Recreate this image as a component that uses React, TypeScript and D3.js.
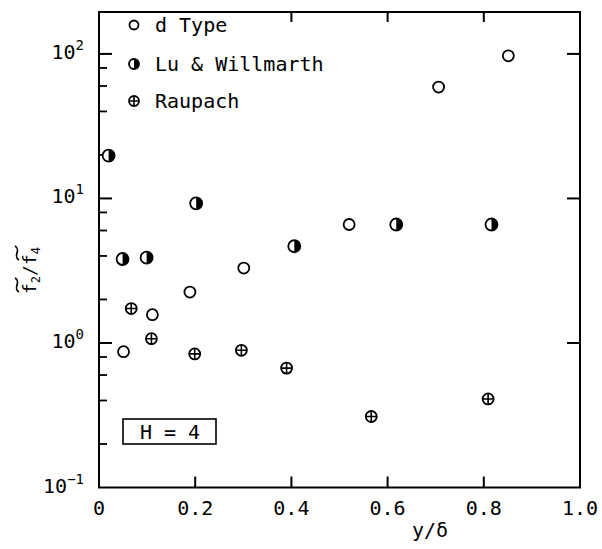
import React from "react";
import * as d3 from "d3";

const dType = [
  { x: 0.051, y: 0.87 },
  { x: 0.111, y: 1.57 },
  { x: 0.189, y: 2.25 },
  { x: 0.301, y: 3.3 },
  { x: 0.52, y: 6.6 },
  { x: 0.706, y: 59 },
  { x: 0.851, y: 97 },
];
const luWillmarth = [
  { x: 0.02, y: 19.8 },
  { x: 0.049, y: 3.81 },
  { x: 0.099, y: 3.89 },
  { x: 0.202, y: 9.25 },
  { x: 0.406, y: 4.67 },
  { x: 0.618, y: 6.6 },
  { x: 0.816, y: 6.6 },
];
const raupach = [
  { x: 0.067, y: 1.73 },
  { x: 0.109, y: 1.07 },
  { x: 0.199, y: 0.84 },
  { x: 0.296, y: 0.89 },
  { x: 0.39, y: 0.67 },
  { x: 0.566, y: 0.31 },
  { x: 0.809, y: 0.41 },
];
const xTicks = [0, 0.2, 0.4, 0.6, 0.8, 1.0];
const xTickLabels = ["0", "0.2", "0.4", "0.6", "0.8", "1.0"];
const yMajor = [0.1, 1, 10, 100];
const yMajorExp = ["\u22121", "0", "1", "2"];
const yMinorMult = [2, 4, 6, 8];
const legendItems = ["d Type", "Lu & Willmarth", "Raupach"];

const FONT = "DejaVu Sans Mono, Liberation Mono, monospace";

const OpenMarker = ({ cx, cy, r }: { cx: number; cy: number; r: number }) => (
  <circle cx={cx} cy={cy} r={r} fill="white" stroke="black" strokeWidth={1.8} />
);
const HalfMarker = ({ cx, cy, r }: { cx: number; cy: number; r: number }) => (
  <g transform={`translate(${cx},${cy})`}>
    <circle r={r} fill="white" stroke="black" strokeWidth={1.8} />
    <path d={`M0,${-r} A${r},${r} 0 0 1 0,${r} Z`} fill="black" />
  </g>
);
const PlusMarker = ({ cx, cy, r }: { cx: number; cy: number; r: number }) => (
  <g transform={`translate(${cx},${cy})`}>
    <circle r={r} fill="white" stroke="black" strokeWidth={1.8} />
    <path d={`M${-r},0 H${r} M0,${-r} V${r}`} stroke="black" strokeWidth={1.6} />
  </g>
);

export default function App() {
  const x = d3.scaleLinear().domain([0, 1]).range([99, 580]);
  const y = d3.scaleLog().domain([0.1, Math.pow(10, 2.29)]).range([487.5, 12]);
  const [x0, x1] = x.range();
  const [y0, y1] = y.range();

  const minor: number[] = [];
  [-1, 0, 1].forEach((d) =>
    yMinorMult.forEach((m) => {
      const v = m * Math.pow(10, d);
      if (v < y.domain()[1]) minor.push(v);
    })
  );

  const tilde = (cx: number, cy: number) =>
    `M${cx - 7},${cy + 2} C${cx - 3},${cy - 5} ${cx + 3},${cy + 5} ${cx + 7},${cy - 2}`;

  return (
    <svg width={602} height={549} style={{ display: "block", position: "absolute", left: 0, top: 0 }}>
      <rect width={602} height={549} fill="white" />
      <rect x={x0} y={y1} width={x1 - x0} height={y0 - y1} fill="none" stroke="black" strokeWidth={2} />
      {xTicks.slice(1, -1).map((t) => (
        <line key={"xb" + t} x1={x(t)} x2={x(t)} y1={y0} y2={y0 - 11} stroke="black" strokeWidth={2} />
      ))}
      {xTicks.slice(2, -1).map((t) => (
        <line key={"xt" + t} x1={x(t)} x2={x(t)} y1={y1} y2={y1 + 10} stroke="black" strokeWidth={2} />
      ))}
      {yMajor.slice(1).map((t) => (
        <g key={"ym" + t}>
          <line x1={x0} x2={x0 + 13} y1={y(t)} y2={y(t)} stroke="black" strokeWidth={2} />
          <line x1={x1} x2={x1 - 13} y1={y(t)} y2={y(t)} stroke="black" strokeWidth={2} />
        </g>
      ))}
      {minor.map((t) => (
        <line key={"yn" + t} x1={x0} x2={x0 + 8} y1={y(t)} y2={y(t)} stroke="black" strokeWidth={1.8} />
      ))}
      {xTicks.map((t, i) => (
        <text key={"xl" + t} x={x(t)} y={515} textAnchor="middle" fontFamily={FONT} fontSize={20}>
          {xTickLabels[i]}
        </text>
      ))}
      {yMajor.map((t, i) => (
        <text key={"yl" + t} x={84} y={y(t) + 5} textAnchor="end" fontFamily={FONT} fontSize={20}>
          10
          <tspan fontSize={14} dy={-9}>
            {yMajorExp[i]}
          </tspan>
        </text>
      ))}
      <text x={430} y={537} textAnchor="middle" fontFamily={FONT} fontSize={20}>
        y/δ
      </text>
      <g transform="translate(36,268) rotate(-90)">
        <text x={-26} y={0} fontFamily={FONT} fontSize={18} fill="black">
          f
          <tspan fontSize={12} dy={4}>2</tspan>
          <tspan dy={-4}>/f</tspan>
          <tspan fontSize={12} dy={4}>4</tspan>
        </text>
        <path d={tilde(-17, -19)} fill="none" stroke="black" strokeWidth={1.7} />
        <path d={tilde(15, -19)} fill="none" stroke="black" strokeWidth={1.7} />
      </g>
      <rect x={123} y={419} width={93} height={25} fill="white" stroke="black" strokeWidth={1.6} />
      <text x={170} y={439} textAnchor="middle" fontFamily={FONT} fontSize={20}>
        H = 4
      </text>
      <OpenMarker cx={134} cy={25} r={4.5} />
      <HalfMarker cx={134} cy={64} r={5} />
      <PlusMarker cx={134} cy={101} r={5} />
      {legendItems.map((s, i) => (
        <text key={s} x={155} y={[32, 71, 108][i]} fontFamily={FONT} fontSize={20}>
          {s}
        </text>
      ))}
      {dType.map((d, i) => (
        <OpenMarker key={"d" + i} cx={x(d.x)} cy={y(d.y)} r={5.5} />
      ))}
      {luWillmarth.map((d, i) => (
        <HalfMarker key={"l" + i} cx={x(d.x)} cy={y(d.y)} r={6} />
      ))}
      {raupach.map((d, i) => (
        <PlusMarker key={"r" + i} cx={x(d.x)} cy={y(d.y)} r={5.5} />
      ))}
    </svg>
  );
}
